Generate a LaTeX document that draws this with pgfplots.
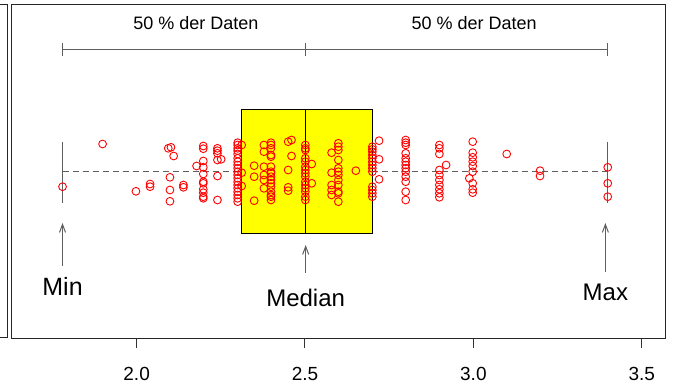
\documentclass[border=0pt]{standalone}
\usepackage{fontspec}
\setmainfont{Liberation Sans}
\usepackage{pgfplots}
\pgfplotsset{compat=1.18}
\usetikzlibrary{arrows.meta}
\definecolor{wgray}{RGB}{95,95,95}
\definecolor{boxyellow}{RGB}{255,255,0}
\begin{document}
\begin{tikzpicture}
\useasboundingbox (-11pt,-49pt) rectangle (664pt,338pt);
% edge of the neighbouring panel
\draw[line width=1pt,black!85] (-11pt,333pt) -- (-4pt,333pt) -- (-4pt,0pt) -- (-11pt,0pt);
\begin{axis}[
  at={(0,0)}, anchor=south west,
  width=654pt, height=333pt, scale only axis,
  xmin=1.627, xmax=3.569,
  ymin=5, ymax=338, y dir=reverse,
  ytick=\empty,
  xtick={2,2.5,3,3.5},
  xticklabels={2.0,2.5,3.0,3.5},
  tick align=outside,
  major tick length=10pt,
  xtick pos=bottom,
  xtick style={line width=1pt,black!80},
  xticklabel style={font=\fontsize{19}{21}\selectfont, yshift=-16pt},
  axis line style={line width=1pt,black!85},
  clip=false,
]
% box
\fill[boxyellow] (axis cs:2.312,110) rectangle (axis cs:2.700,233.3);
\draw[line width=1pt,black] (axis cs:2.312,110) rectangle (axis cs:2.700,233.3);
% whiskers
\draw[line width=1.1pt,wgray,dash pattern=on 6pt off 4pt] (axis cs:1.780,171.7) -- (axis cs:2.312,171.7);
\draw[line width=1.1pt,wgray,dash pattern=on 6pt off 4pt] (axis cs:2.700,171.7) -- (axis cs:3.399,171.7);
\draw[line width=1pt,wgray] (axis cs:1.780,142) -- (axis cs:1.780,203);
\draw[line width=1pt,wgray] (axis cs:3.399,142) -- (axis cs:3.399,203);
% top bracket
\draw[line width=1pt,wgray] (axis cs:1.780,50) -- (axis cs:3.397,50);
\draw[line width=1pt,wgray] (axis cs:1.780,43) -- (axis cs:1.780,56);
\draw[line width=1pt,wgray] (axis cs:2.502,43) -- (axis cs:2.502,56);
\draw[line width=1pt,wgray] (axis cs:3.397,43) -- (axis cs:3.397,56);
\node[font=\fontsize{18}{20}\selectfont] at (axis cs:2.176,23) {50 \% der Daten};
\node[font=\fontsize{18}{20}\selectfont] at (axis cs:3.002,23) {50 \% der Daten};
% points
\addplot[only marks, mark=o, mark size=3.9pt, red, mark options={line width=0.9pt}] coordinates {
(1.780,186.7) (1.899,144) (1.998,191.3)
(2.040,184) (2.040,186.7)
(2.094,148.3) (2.102,147.3) (2.110,156)
(2.099,177.3) (2.099,190) (2.099,201.3)
(2.139,185) (2.139,187.3)
(2.178,166)
(2.198,146) (2.198,148.7) (2.198,161) (2.198,167.3) (2.198,174) (2.198,181.7) (2.198,183.3) (2.198,189.3) (2.198,192.7) (2.198,196.7) (2.198,198.3)
(2.240,148.3) (2.240,150.7) (2.240,153.3) (2.240,160) (2.240,176) (2.240,200) (2.251,159.3)
(2.300,142.7) (2.300,145) (2.300,148.3) (2.300,150.7) (2.300,154) (2.300,158.3) (2.300,161.7) (2.300,165) (2.300,168.3) (2.300,171.7) (2.300,175) (2.300,178.3) (2.300,181.7) (2.300,185) (2.300,188.3) (2.300,191.7) (2.300,195) (2.300,198.3) (2.300,201.7)
(2.312,145) (2.312,172.7) (2.312,186)
(2.349,165.7) (2.349,176.7) (2.349,200.7)
(2.378,145) (2.378,151.7) (2.378,166.7) (2.378,175) (2.378,180) (2.378,188.3)
(2.399,142.7) (2.399,145) (2.399,148.3) (2.399,155) (2.399,156.7) (2.399,166.7) (2.399,171.7) (2.399,173.3) (2.399,176.7) (2.399,180) (2.399,183.3) (2.399,186.7) (2.399,191.7) (2.399,195) (2.399,196.7) (2.399,200)
(2.450,141.7) (2.460,140) (2.460,156) (2.450,170) (2.450,187.3) (2.450,190.7)
(2.501,145) (2.501,148.3) (2.501,150) (2.501,158.3) (2.501,161.7) (2.501,166.7) (2.501,170) (2.501,173.3) (2.501,176.7) (2.501,181.7) (2.501,185) (2.501,188.3) (2.501,191.7) (2.501,196.7) (2.501,200)
(2.520,164) (2.520,183.3)
(2.579,152.7) (2.579,172.7) (2.579,185) (2.579,190) (2.579,195)
(2.599,143.3) (2.599,146.7) (2.599,150) (2.599,160) (2.599,168.3) (2.599,171.7) (2.599,175) (2.599,180) (2.599,185) (2.599,191.7) (2.599,193.3) (2.599,201.7)
(2.651,170.7)
(2.700,146.7) (2.700,149.3) (2.700,151.7) (2.700,155) (2.700,158.3) (2.700,161.7) (2.700,165) (2.700,168.3) (2.700,171.7) (2.700,186.7) (2.700,190) (2.700,193.3) (2.700,196.7)
(2.720,140.7) (2.720,159.3) (2.720,179.3)
(2.799,140) (2.799,142.7) (2.799,145) (2.799,153.3) (2.799,158.3) (2.799,161.7) (2.799,165) (2.799,168.3) (2.799,171.7) (2.799,176.7) (2.799,181.7) (2.799,191.7) (2.799,200)
(2.899,145) (2.899,148.3) (2.899,154) (2.899,170) (2.899,175) (2.899,180) (2.899,185) (2.899,189.3) (2.899,193.3) (2.899,197.3)
(2.919,165)
(2.998,141.7) (2.998,152.7) (2.998,157.3) (2.998,161.7) (2.998,166) (2.998,171.7) (2.998,183.3) (2.998,189.3) (2.998,192.7) (2.988,178.3)
(3.099,154)
(3.198,170.7) (3.198,176)
(3.399,167.3) (3.399,183.3) (3.399,196.7)
};
% median
\draw[line width=1pt,black] (axis cs:2.502,110) -- (axis cs:2.502,233.3);
% arrows and labels
\draw[line width=1pt,wgray,-{Straight Barb[length=8pt,width=6pt]}] (axis cs:1.780,266) -- (axis cs:1.780,223);
\draw[line width=1pt,wgray,-{Straight Barb[length=8pt,width=6pt]}] (axis cs:2.502,272.7) -- (axis cs:2.502,245);
\draw[line width=1pt,wgray,-{Straight Barb[length=8pt,width=6pt]}] (axis cs:3.392,272) -- (axis cs:3.392,223);
\node[font=\fontsize{25}{27}\selectfont] at (axis cs:1.780,286.7) {Min};
\node[font=\fontsize{24}{26}\selectfont] at (axis cs:2.502,298) {Median};
\node[font=\fontsize{24}{26}\selectfont] at (axis cs:3.392,292.7) {Max};
\end{axis}
\end{tikzpicture}
\end{document}
